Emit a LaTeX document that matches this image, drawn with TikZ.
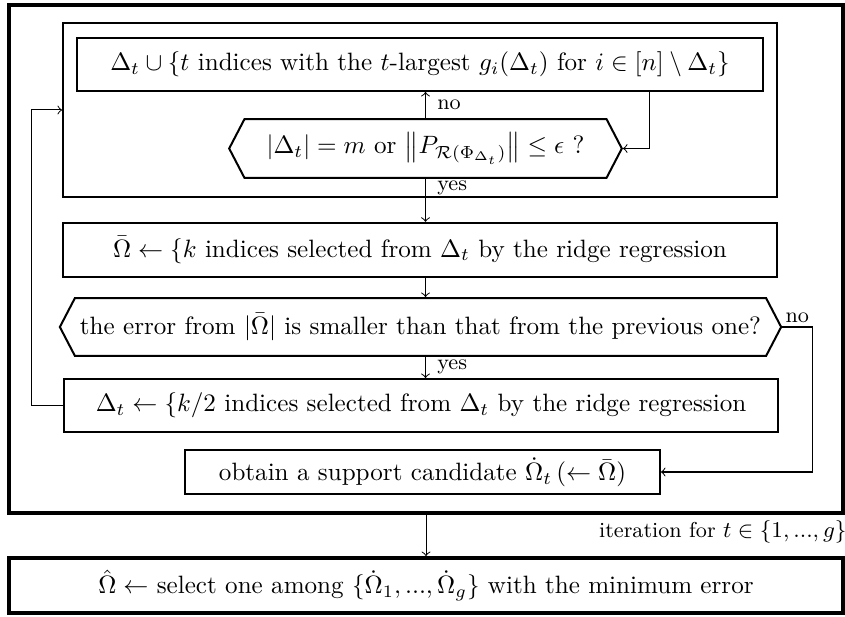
\documentclass[tikz,border=0pt]{standalone}
\usepackage{amsmath,amssymb}
\usepackage{tikz}
\usetikzlibrary{shapes,arrows,positioning,calc}

\begin{document}
\begin{tikzpicture}[x=0.014cm, y=-0.014cm,
    box/.style={draw, thick, rectangle, minimum height=0.74cm, inner sep=2pt},
    hexa/.style={draw, thick, shape=signal, signal to=west and east, signal pointer angle=125, minimum height=0.82cm, inner sep=2pt},
    frame/.style={draw, line width=1.5pt, rectangle, inner sep=2pt},
    lbl/.style={font=\fontsize{8.6pt}{10pt}\selectfont, inner sep=1.5pt}]
    \useasboundingbox (0,0) rectangle (845,617);

    % Cadres
    \node[frame, minimum width=11.68cm, minimum height=7.11cm] (outer) at (426,259) {};
    \node[draw, thick, minimum width=10cm, minimum height=2.44cm] (loop) at (420,110) {};

    % Etapes
    \node[box, minimum width=9.6cm] (add) at (420,64.5) {$\Delta_t \cup \{t$ indices with the $t$-largest $g_i(\Delta_t)$ for $i \in [n] \setminus \Delta_t\}$};
    \node[hexa, minimum width=5.5cm] (stop) at (425.5,148.5) {$|\Delta_t| = m$ or $\left\| P_{\mathcal{R}(\Phi_{\Delta_t})} \right\| \leq \epsilon$ ?};
    \node[box, minimum width=10cm, minimum height=0.76cm] (ridge) at (420,250) {$\bar{\Omega} \leftarrow \{k$ indices selected from $\Delta_t$ by the ridge regression};
    \node[hexa, minimum width=10cm, minimum height=0.81cm] (err) at (420.5,327) {the error from $|\bar{\Omega}|$ is smaller than that from the previous one?};
    \node[box, minimum width=10cm] (half) at (421,405.5) {$\Delta_t \leftarrow \{k/2$ indices selected from $\Delta_t$ by the ridge regression};
    \node[box, minimum width=6.65cm, minimum height=0.62cm] (cand) at (422.5,472) {obtain a support candidate $\dot{\Omega}_t\,(\leftarrow \bar{\Omega})$};
    \node[frame, minimum width=11.68cm, minimum height=0.77cm] (final) at (426,585.5) {$\hat{\Omega} \leftarrow$ select one among $\{\dot{\Omega}_1, ..., \dot{\Omega}_g\}$ with the minimum error};

    % Fleches
    \draw[->] (stop.north) -- (stop.north |- add.south) node[lbl, pos=0.5, right=3pt] {no};
    \draw[->] ($(add.south east)+(-114,0)$) |- (stop.east);
    \draw[->] (stop.south) -- (stop.south |- ridge.north) node[lbl, pos=0.2, right=3pt] {yes};
    \draw[->] (ridge.south -| stop.south) -- (err.north -| stop.south);
    \draw[->] (err.south -| stop.south) -- (half.north -| stop.south) node[lbl, pos=0.45, right=3pt] {yes};
    \draw[->] (half.west) -- ++(-32,0) |- (loop.west);
    \draw[->] (err.east) -- ++(30,0) node[lbl, pos=0.5, above] {no} |- (cand.east);
    \draw[->] (outer.south) -- (final.north);

    % Label
    \node[lbl, anchor=north east] (iter) at ($(outer.south east)+(6,2)$) {iteration for $t \in \{1, ..., g\}$};
\end{tikzpicture}
\end{document}
